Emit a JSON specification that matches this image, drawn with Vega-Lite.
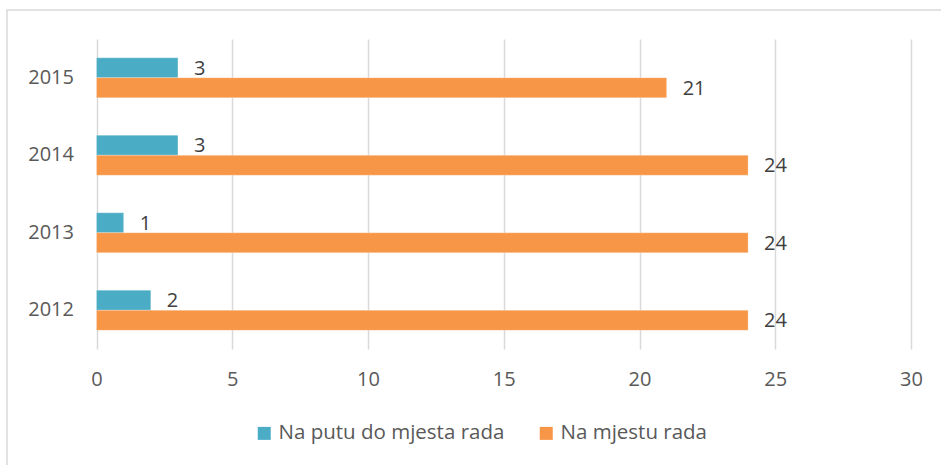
{
  "$schema": "https://vega.github.io/schema/vega-lite/v6.json",
  "autosize": "none",
  "padding": {"left": 7, "top": 10, "right": 0, "bottom": 0},
  "width": 938,
  "height": 459,
  "data": {
    "values": [
      {"year": "2015", "series": "Na putu do mjesta rada", "value": 3},
      {"year": "2015", "series": "Na mjestu rada", "value": 21},
      {"year": "2014", "series": "Na putu do mjesta rada", "value": 3},
      {"year": "2014", "series": "Na mjestu rada", "value": 24},
      {"year": "2013", "series": "Na putu do mjesta rada", "value": 1},
      {"year": "2013", "series": "Na mjestu rada", "value": 24},
      {"year": "2012", "series": "Na putu do mjesta rada", "value": 2},
      {"year": "2012", "series": "Na mjestu rada", "value": 24}
    ]
  },
  "encoding": {
    "y": {
      "field": "year", "type": "nominal",
      "scale": {"domain": ["2015", "2014", "2013", "2012"], "range": [29, 339], "paddingInner": 0.484, "paddingOuter": 0.242},
      "axis": {"title": null, "domain": false, "ticks": false, "tickSize": 0, "grid": false, "offset": -89.5, "labelPadding": 23, "labelFont": "Open Sans", "labelFontSize": 20, "labelColor": "#595959"}
    },
    "yOffset": {
      "field": "series", "type": "nominal",
      "scale": {"domain": ["Na putu do mjesta rada", "Na mjestu rada"], "paddingInner": 0, "paddingOuter": 0}
    },
    "x": {
      "field": "value", "type": "quantitative",
      "scale": {"domain": [0, 30], "range": [89.5, 904], "nice": false, "zero": true},
      "axis": {"title": null, "orient": "top", "domain": false, "ticks": false, "tickSize": 0, "grid": true, "gridColor": "#d9d9d9", "gridWidth": 1.5, "values": [0, 5, 10, 15, 20, 25, 30], "offset": -339, "labelPadding": -20, "labelBaseline": "top", "labelFlush": false, "labelFont": "Open Sans", "labelFontSize": 20, "labelColor": "#595959"}
    }
  },
  "layer": [
    {
      "mark": {"type": "bar", "stroke": "#ffffff", "strokeOpacity": 0.5, "strokeWidth": 0.5},
      "encoding": {
        "color": {
          "field": "series", "type": "nominal",
          "scale": {"domain": ["Na putu do mjesta rada", "Na mjestu rada"], "range": ["#4BACC6", "#F79646"]},
          "legend": {
            "title": null, "orient": "none", "direction": "horizontal",
            "legendX": 247, "legendY": 413,
            "symbolType": "square", "symbolSize": 169, "symbolStrokeWidth": 0,
            "labelFont": "Open Sans", "labelFontSize": 20.5, "labelColor": "#595959",
            "labelOffset": 4, "columnPadding": 31, "labelLimit": 400
          }
        }
      }
    },
    {
      "mark": {"type": "text", "align": "left", "baseline": "middle", "dx": 16, "dy": 1, "font": "Open Sans", "fontSize": 20, "color": "#404040"},
      "encoding": {
        "text": {"field": "value", "type": "quantitative"}
      }
    }
  ],
  "config": {
    "view": {"stroke": "#d9d9d9", "strokeWidth": 1.5},
    "background": "#ffffff"
  }
}
